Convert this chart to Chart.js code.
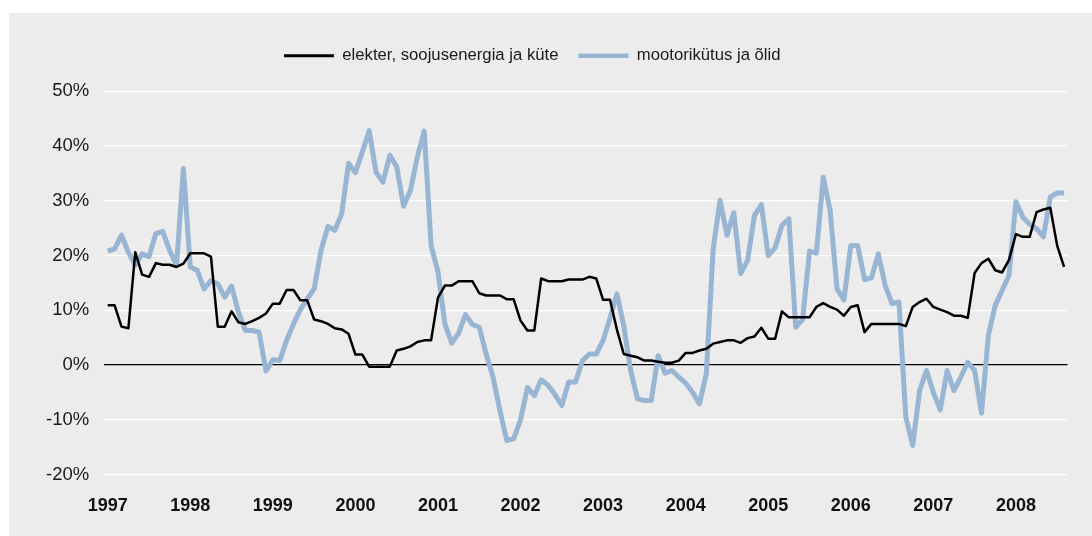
<!DOCTYPE html>
<html>
<head>
<meta charset="utf-8">
<script src="https://cdn.jsdelivr.net/npm/chart.js@4"></script>
<style>
html,body{margin:0;padding:0;background:#ffffff;}
#panel{position:absolute;left:9px;top:13px;width:1083px;height:523px;background:#ebeceb;}
canvas{display:block;}
</style>
</head>
<body>
<div id="panel"><canvas id="c" width="1083" height="523"></canvas></div>
<script>
// ---- data ----
const years = ['1997','1998','1999','2000','2001','2002','2003','2004','2005','2006','2007','2008'];
const monthsShown = 140; // Jan 1997 .. Aug 2008
const seriesNames = ['elekter, soojusenergia ja küte', 'mootorikütus ja õlid'];

const electricity = [
  10.9, 10.9, 7.0, 6.7, 20.6, 16.5, 16.1, 18.6, 18.3, 18.3, 17.9, 18.5,
  20.4, 20.4, 20.4, 19.8, 7.0, 7.0, 9.8, 7.8, 7.5, 8.0, 8.6, 9.4,
  11.2, 11.2, 13.7, 13.7, 11.8, 11.8, 8.3, 8.0, 7.5, 6.7, 6.5, 5.7,
  1.9, 1.9, -0.3, -0.3, -0.3, -0.3, 2.65, 2.95, 3.4, 4.2, 4.5, 4.5,
  12.3, 14.5, 14.5, 15.3, 15.3, 15.3, 13.1, 12.7, 12.7, 12.7, 12.0, 12.0,
  8.1, 6.3, 6.3, 15.8, 15.3, 15.3, 15.3, 15.6, 15.6, 15.6, 16.1, 15.8,
  11.9, 11.9, 6.5, 2.0, 1.7, 1.4, 0.8, 0.8, 0.6, 0.4, 0.4, 0.8,
  2.2, 2.2, 2.65, 2.95, 3.9, 4.2, 4.5, 4.5, 4.05, 4.9, 5.2, 6.8,
  4.8, 4.8, 9.8, 8.7, 8.7, 8.7, 8.7, 10.6, 11.3, 10.6, 10.1, 9.0,
  10.6, 10.9, 6.0, 7.5, 7.5, 7.5, 7.5, 7.5, 7.1, 10.6, 11.5, 12.1,
  10.6, 10.1, 9.65, 9.0, 9.0, 8.6, 16.8, 18.6, 19.4, 17.3, 16.9, 19.2,
  23.9, 23.4, 23.4, 27.9, 28.4, 28.7, 21.8, 17.9
];

const motorFuel = [
  20.8, 21.2, 23.7, 20.6, 18.2, 20.3, 19.8, 24.0, 24.4, 20.9, 18.2, 35.9,
  17.9, 17.3, 13.9, 15.4, 14.8, 12.4, 14.4, 9.65, 6.3, 6.3, 6.0, -1.1,
  0.95, 0.8, 4.5, 7.5, 10.1, 12.1, 13.9, 20.9, 25.3, 24.6, 27.6, 36.8,
  35.1, 38.9, 42.8, 35.2, 33.4, 38.3, 36.2, 29.0, 31.9, 38.0, 42.7, 21.8,
  17.0, 7.5, 4.0, 5.8, 9.2, 7.4, 6.9, 2.0, -2.2, -8.3, -13.8, -13.5,
  -10.0, -4.1, -5.6, -2.7, -3.7, -5.4, -7.4, -3.1, -3.1, 0.8, 2.0, 2.0,
  4.5, 8.5, 13.0, 7.2, -1.0, -6.2, -6.5, -6.5, 1.7, -1.5, -1.0, -2.2,
  -3.3, -5.0, -7.1, -1.6, 21.2, 30.1, 23.7, 27.8, 16.7, 19.1, 27.3, 29.3,
  20.0, 21.4, 25.5, 26.7, 6.9, 8.3, 20.8, 20.4, 34.3, 28.2, 13.9, 11.9,
  21.8, 21.8, 15.6, 15.9, 20.3, 14.5, 11.2, 11.5, -9.5, -14.7, -4.7, -1.0,
  -5.0, -8.2, -1.0, -4.7, -2.2, 0.5, -1.0, -8.8, 5.4, 10.9, 13.6, 16.4,
  29.8, 27.0, 25.7, 24.9, 23.4, 30.7, 31.4, 31.4
];

const yMin = -20, yMax = 50, yStep = 10;

// ---- build category labels (one per month) ----
const monthLabels = [];
for (let i = 0; i < monthsShown; i++) {
  monthLabels.push(years[Math.floor(i / 12)] + '-' + String(i % 12 + 1).padStart(2, '0'));
}

Chart.defaults.font.family = '"Liberation Sans", Arial, Helvetica, sans-serif';
Chart.defaults.color = '#1a1a1a';

const legendShift = {
  id: 'legendShift',
  afterLayout(chart) {
    const l = chart.legend;
    const dx = -6, dy = -17;
    l.left += dx; l.right += dx; l.top += dy; l.bottom += dy;
  }
};

new Chart(document.getElementById('c'), {
  type: 'line',
  data: {
    labels: monthLabels,
    datasets: [
      {
        label: seriesNames[0],
        data: electricity,
        borderColor: '#000000',
        backgroundColor: '#000000',
        borderWidth: 2.5,
        pointRadius: 0,
        tension: 0,
        borderJoinStyle: 'round',
        fill: false
      },
      {
        label: seriesNames[1],
        data: motorFuel,
        borderColor: '#98b5d3',
        backgroundColor: '#98b5d3',
        borderWidth: 5,
        pointRadius: 0,
        tension: 0,
        borderJoinStyle: 'round',
        fill: false
      }
    ]
  },
  options: {
    responsive: false,
    animation: false,
    layout: { padding: { left: 0, right: 24.5, top: 31.5, bottom: 0 } },
    plugins: {
      tooltip: { enabled: false },
      legend: {
        position: 'top',
        align: 'center',
        labels: {
          usePointStyle: true,
          pointStyle: 'line',
          pointStyleWidth: 50,
          boxHeight: 17,
          padding: 20,
          font: { size: 16.7 },
          color: '#1a1a1a',
          generateLabels(chart) {
            const items = Chart.defaults.plugins.legend.labels.generateLabels(chart);
            items[0].lineWidth = 3;
            items[1].lineWidth = 4.5;
            return items;
          }
        }
      }
    },
    scales: {
      x: {
        type: 'category',
        offset: true,
        grid: { display: false, drawTicks: false },
        border: { display: false },
        ticks: {
          autoSkip: false,
          maxRotation: 0,
          minRotation: 0,
          padding: 21,
          font: { size: 18, weight: 'bold' },
          color: '#111111',
          callback(value, index) {
            return index % 12 === 0 ? years[index / 12] : '';
          }
        },
        afterFit(scale) { scale.height = 61.5; }
      },
      y: {
        min: yMin,
        max: yMax,
        grid: {
          drawTicks: false,
          lineWidth: 1.3,
          color(ctx) { return ctx.tick && ctx.tick.value === 0 ? '#000000' : '#ffffff'; }
        },
        border: { display: false },
        ticks: {
          stepSize: yStep,
          padding: 15,
          font: { size: 18.5 },
          color: '#1a1a1a',
          callback(v) { return v + '%'; }
        },
        afterFit(scale) { scale.width = 95.3; }
      }
    }
  },
  plugins: [legendShift]
});
</script>
</body>
</html>
